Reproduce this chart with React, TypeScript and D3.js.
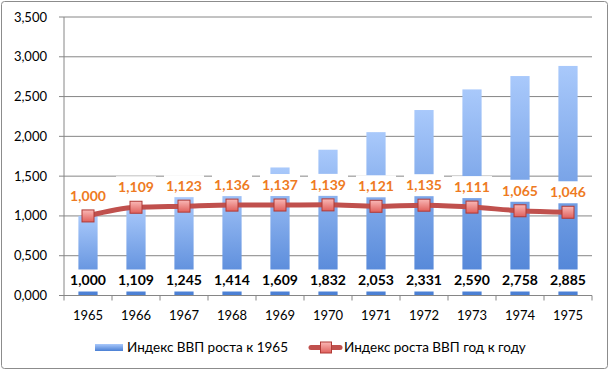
import * as d3 from "d3";

const years = ["1965", "1966", "1967", "1968", "1969", "1970", "1971", "1972", "1973", "1974", "1975"];
const growthIndex = [1.0, 1.109, 1.245, 1.414, 1.609, 1.832, 2.053, 2.331, 2.59, 2.758, 2.885];
const yoyIndex = [1.0, 1.109, 1.123, 1.136, 1.137, 1.139, 1.121, 1.135, 1.111, 1.065, 1.046];
const yTicks = [0, 0.5, 1, 1.5, 2, 2.5, 3, 3.5];
const seriesNames = ["Индекс ВВП роста к 1965", "Индекс роста ВВП год к году"];

const W = 610;
const H = 371;
const margin = { left: 64, right: 18, top: 17, bottom: 75 };
const font = "Lato, 'Open Sans', sans-serif";

// comma as decimal separator, 3 digits
const fmt = (v: number) => d3.format(".3f")(v).replace(".", ",");

const App = () => {
  const x = d3
    .scaleBand()
    .domain(years)
    .range([margin.left, W - margin.right])
    .paddingInner(0.6)
    .paddingOuter(0.3);
  const y = d3
    .scaleLinear()
    .domain([0, 3.5])
    .range([H - margin.bottom - 0.5, margin.top]);
  const cx = (d: string) => (x(d) as number) + x.bandwidth() / 2;
  const step = x.step();
  const x0 = margin.left;
  const x1 = W - margin.right;

  const line = d3
    .line<number>()
    .x((_, i) => cx(years[i]))
    .y((d) => y(d))
    .curve(d3.curveMonotoneX);

  const lineColor = "#c0504d";
  const orange = "#ee7a22";
  const boxW = 40;
  const boxH = 22;
  const baseLabelY = y(0) - 15;

  return (
    <svg
      width={W}
      height={H}
      style={{ position: "fixed", left: 0, top: 0, background: "#fff" }}
      fontFamily={font}
    >
      <defs>
        <linearGradient id="barGrad" x1="0" y1="0" x2="0" y2="1">
          <stop offset="0" stopColor="#a9c9fb" />
          <stop offset="1" stopColor="#4a7fd4" />
        </linearGradient>
        <linearGradient id="legGrad" x1="0" y1="0" x2="0" y2="1">
          <stop offset="0" stopColor="#a9c9fb" />
          <stop offset="1" stopColor="#4a7fd4" />
        </linearGradient>
        <linearGradient id="markGrad" x1="0" y1="0" x2="0" y2="1">
          <stop offset="0" stopColor="#f9b8b6" />
          <stop offset="1" stopColor="#e0605c" />
        </linearGradient>
      </defs>
      <rect x={1.5} y={1.5} width={W - 4} height={H - 4} rx={3} fill="#fff" stroke="#8c8c8c" />

      {/* gridlines + y ticks */}
      {yTicks.map((t) => (
        <g key={t}>
          {t > 0 && <line x1={x0} x2={x1} y1={y(t)} y2={y(t)} stroke="#868686" />}
          <line x1={x0 - 5} x2={x0} y1={y(t)} y2={y(t)} stroke="#868686" />
          <text x={47} y={y(t)} dy="0.35em" textAnchor="end" fontSize={13} fill="#000">
            {fmt(t)}
          </text>
        </g>
      ))}

      {/* bars */}
      {growthIndex.map((v, i) => (
        <rect
          key={years[i]}
          x={x(years[i])}
          y={y(v)}
          width={x.bandwidth()}
          height={y(0) - y(v)}
          fill="url(#barGrad)"
        />
      ))}

      {/* axes */}
      <line x1={x0} x2={x0} y1={margin.top} y2={y(0)} stroke="#868686" />
      <line x1={x0} x2={x1} y1={y(0)} y2={y(0)} stroke="#868686" />
      {d3.range(years.length + 1).map((i) => (
        <line key={i} x1={x0 + i * step} x2={x0 + i * step} y1={y(0)} y2={y(0) + 5} stroke="#868686" />
      ))}
      {years.map((d) => (
        <text key={d} x={cx(d)} y={y(0) + 20} dy="0.35em" textAnchor="middle" fontSize={13}>
          {d}
        </text>
      ))}

      {/* line series */}
      <path d={line(yoyIndex) as string} fill="none" stroke={lineColor} strokeWidth={5} strokeLinejoin="round" />
      {yoyIndex.map((v, i) => (
        <rect
          key={years[i]}
          x={cx(years[i]) - 6}
          y={y(v) - 6}
          width={12}
          height={12}
          fill="url(#markGrad)"
          stroke="#b03a36"
        />
      ))}

      {/* bar labels */}
      {growthIndex.map((v, i) => (
        <g key={years[i]}>
          <rect x={cx(years[i]) - boxW / 2} y={baseLabelY - boxH / 2} width={boxW} height={boxH} fill="#fff" />
          <text x={cx(years[i])} y={baseLabelY} dy="0.35em" textAnchor="middle" fontSize={14} fontWeight="bold">
            {fmt(v)}
          </text>
        </g>
      ))}

      {/* line labels */}
      {yoyIndex.map((v, i) => (
        <g key={years[i]}>
          <rect x={cx(years[i]) - boxW / 2} y={y(v) - 20 - boxH / 2} width={boxW} height={boxH} fill="#fff" />
          <text
            x={cx(years[i])}
            y={y(v) - 20}
            dy="0.35em"
            textAnchor="middle"
            fontSize={14}
            fontWeight="bold"
            fill={orange}
          >
            {fmt(v)}
          </text>
        </g>
      ))}

      {/* legend */}
      <rect x={95} y={344} width={28} height={7} fill="url(#legGrad)" />
      <text x={127} y={347.5} dy="0.35em" fontSize={13.5}>
        {seriesNames[0]}
      </text>
      <line x1={311} x2={340} y1={347.5} y2={347.5} stroke={lineColor} strokeWidth={5} strokeLinecap="round" />
      <rect x={320.5} y={342} width={11} height={11} fill="url(#markGrad)" stroke="#b03a36" />
      <text x={344} y={347.5} dy="0.35em" fontSize={13.5}>
        {seriesNames[1]}
      </text>
    </svg>
  );
};

export default App;
